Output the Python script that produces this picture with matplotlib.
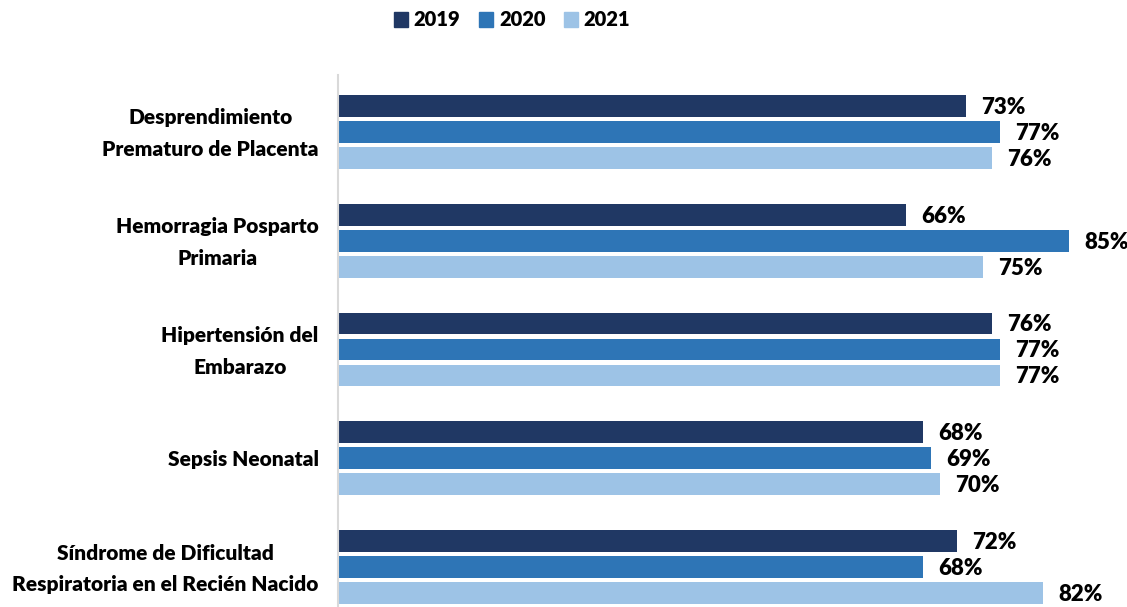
import numpy as np
import matplotlib.pyplot as plt
import matplotlib.transforms as mtransforms
from matplotlib.patches import Patch

plt.rcParams['font.family'] = ['Lato', 'DejaVu Sans']
plt.rcParams['font.weight'] = 'bold'

categories = [
    'Desprendimiento\nPrematuro de Placenta',
    'Hemorragia Posparto\nPrimaria',
    'Hipertensión del\nEmbarazo',
    'Sepsis Neonatal',
    'Síndrome de Dificultad\nRespiratoria en el Recién Nacido',
]
years = ['2019', '2020', '2021']
v2019 = [73, 66, 76, 68, 72]
v2020 = [77, 85, 77, 69, 68]
v2021 = [76, 75, 77, 70, 82]
series = [v2019, v2020, v2021]
colors = ['#203864', '#2E75B6', '#9DC3E6']

fig = plt.figure(figsize=(11.27, 6.07), dpi=100)
ax = fig.add_axes([338 / 1127, 0.0, (1112 - 338) / 1127, 1 - 75 / 607])

y = np.arange(len(categories))
pitch = 0.2385
height = 0.2
for i, (vals, col, yr) in enumerate(zip(series, colors, years)):
    pos = y + (i - 1) * pitch
    ax.barh(pos, vals, height=height, color=col, label=yr)
    for p, v in zip(pos, vals):
        ax.annotate(f'{v}%', (v, p), xytext=(11, -1), textcoords='offset points',
                    va='center', ha='left', fontsize=16, fontweight='heavy')

ax.set_xlim(0, 90)
ax.set_ylim(4 + 0.367, -0.523)
ax.set_yticks(y)
ax.set_yticklabels(categories, fontsize=15, fontweight='heavy', multialignment='center',
                   linespacing=1.8)
ax.tick_params(axis='y', length=0, pad=14)
# subir un poco las etiquetas de dos lineas
shift = mtransforms.ScaledTranslation(0, 6 / 100, fig.dpi_scale_trans)
for lbl, cat in zip(ax.get_yticklabels(), categories):
    if '\n' in cat:
        lbl.set_transform(lbl.get_transform() + shift)
ax.set_xticks([])
for s in ['top', 'right', 'bottom']:
    ax.spines[s].set_visible(False)
ax.spines['left'].set_color('#D9D9D9')
ax.spines['left'].set_linewidth(1.5)

handles = [Patch(color=c, label=yr) for c, yr in zip(colors, years)]
fig.legend(handles=handles, loc='center', bbox_to_anchor=(512 / 1127, 1 - 20 / 607),
           ncol=3, frameon=False, handlelength=0.7, handleheight=0.7,
           handletextpad=0.3, columnspacing=0.9, prop={'weight': 'heavy', 'size': 14.5})

fig.savefig('out.png', dpi=100)
